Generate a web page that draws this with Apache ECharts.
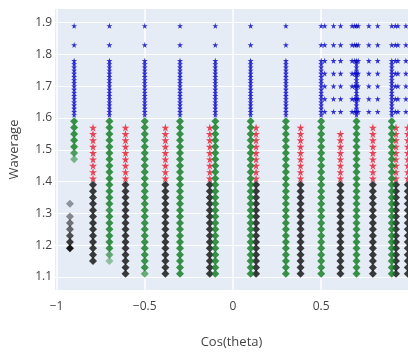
<!DOCTYPE html>
<html>
<head>
<meta charset="utf-8">
<script src="https://cdn.jsdelivr.net/npm/echarts@6/dist/echarts.min.js"></script>
<style>
  html, body { margin: 0; padding: 0; background: #fff; }
  #chart { width: 408px; height: 354px; }
</style>
</head>
<body>
<div id="chart"></div>
<script>
// columns of cos(theta) values and the wave levels
const greenX = [-0.9, -0.7, -0.5, -0.3, -0.1, 0.1, 0.3, 0.5, 0.7, 0.9]
const greenLevels = [1.59, 1.57, 1.55, 1.53, 1.51, 1.49, 1.47, 1.45, 1.43, 1.41, 1.39, 1.37, 1.35,
  1.33, 1.31, 1.29, 1.27, 1.25, 1.23, 1.21, 1.19, 1.17, 1.15, 1.13, 1.11]
const greenLowest = [1.47, 1.15, 1.11, 1.11, 1.11, 1.11, 1.11, 1.11, 1.11, 1.11]
// faded green points: [x, y, opacity]
const greenFaded = [[-0.9, 1.49, 0.7], [-0.9, 1.47, 0.5], [-0.7, 1.31, 0.75], [-0.7, 1.17, 0.6],
  [-0.7, 1.15, 0.4], [-0.5, 1.11, 0.6]]

const blueLevels = [1.89, 1.83, 1.78, 1.77, 1.76, 1.75, 1.74, 1.73, 1.72, 1.71, 1.70, 1.69, 1.68,
  1.67, 1.66, 1.65, 1.64, 1.63, 1.62, 1.61]
const blueGridX = [0.52, 0.57, 0.61, 0.675, 0.69, 0.71, 0.77, 0.82, 0.92, 0.935, 0.98]
const blueGridY = [1.89, 1.83, 1.78, 1.74, 1.70, 1.66, 1.62]

const redX = [-0.793, -0.609, -0.383, -0.131, 0.131, 0.383, 0.609, 0.793, 0.924, 0.991]
const redLevels = [1.57, 1.55, 1.53, 1.51, 1.49, 1.47, 1.45, 1.43, 1.41]
const redHighest = [1.57, 1.57, 1.57, 1.57, 1.57, 1.57, 1.55, 1.57, 1.57, 1.57]

const blackX = [-0.793, -0.609, -0.383, -0.131, 0.131, 0.383, 0.609, 0.793, 0.924, 0.991]
const blackLevels = [1.39, 1.37, 1.35, 1.33, 1.31, 1.29, 1.27, 1.25, 1.23, 1.21, 1.19, 1.17, 1.15,
  1.13, 1.11]
const blackLowest = [1.15, 1.11, 1.11, 1.11, 1.11, 1.11, 1.11, 1.11, 1.11, 1.11]
const greyX = -0.924
const greyY = [1.33, 1.29, 1.27, 1.25, 1.23, 1.21, 1.19]
const greyOpacity = [0.4, 0.45, 0.55, 0.6, 0.7, 0.8, 0.95]

const xTicks = [-1, -0.5, 0, 0.5]
const yTicks = [1.1, 1.2, 1.3, 1.4, 1.5, 1.6, 1.7, 1.8, 1.9]

const STAR = 'path://M50,0 L61,35 L98,35 L68,57 L79,91 L50,70 L21,91 L32,57 L2,35 L39,35 Z'

// build point lists
const fadedKey = new Set(greenFaded.map(p => p[0] + '|' + p[1]))
const greenData = []
greenX.forEach((x, i) => {
  greenLevels.filter(y => y >= greenLowest[i]).forEach(y => {
    if (!fadedKey.has(x + '|' + y)) greenData.push([x, y])
  })
})
greenFaded.forEach(p => greenData.push({ value: [p[0], p[1]], itemStyle: { opacity: p[2] } }))

const blueData = []
greenX.forEach(x => blueLevels.forEach(y => blueData.push([x, y])))
blueGridX.forEach(x => blueGridY.forEach(y => blueData.push([x, y])))

const redData = []
redX.forEach((x, i) => {
  redLevels.filter(y => y <= redHighest[i]).forEach(y => redData.push([x, y]))
})

const blackData = []
blackX.forEach((x, i) => {
  blackLevels.filter(y => y >= blackLowest[i]).forEach(y => blackData.push([x, y]))
})
greyY.forEach((y, i) => blackData.push({ value: [greyX, y], itemStyle: { opacity: greyOpacity[i] } }))

const chart = echarts.init(document.getElementById('chart'), null, { renderer: 'canvas' })

const axisText = { color: '#444', fontSize: 12, fontFamily: 'Open Sans' }

chart.setOption({
  backgroundColor: '#fff',
  animation: false,
  grid: {
    left: 55,
    right: 0,
    top: 9,
    bottom: 51,
    backgroundColor: '#e5ecf6',
    show: true,
    borderWidth: 0,
  },
  xAxis: {
    type: 'value',
    min: -1.0085,
    max: 0.992,
    name: 'Cos(theta)',
    nameLocation: 'middle',
    nameGap: 46,
    nameTextStyle: { color: '#444', fontSize: 13, fontFamily: 'Open Sans' },
    axisLine: { show: false },
    axisTick: { show: false, customValues: xTicks },
    axisLabel: {
      ...axisText,
      margin: 11,
      customValues: xTicks,
      formatter: v => String(v).replace('-', '\u2212'),
    },
    splitLine: { show: true, lineStyle: { color: '#fff', width: 1.5 } },
  },
  yAxis: {
    type: 'value',
    min: 1.059,
    max: 1.943,
    name: 'Waverage',
    nameLocation: 'middle',
    nameGap: 34,
    nameTextStyle: { color: '#444', fontSize: 13, fontFamily: 'Open Sans' },
    axisLine: { show: false },
    axisTick: { show: false, customValues: yTicks },
    axisLabel: { ...axisText, margin: 3, customValues: yTicks, formatter: v => v.toFixed(1) },
    splitLine: { show: true, lineStyle: { color: '#fff', width: 1 } },
  },
  series: [
    {
      name: 'black',
      type: 'scatter',
      data: blackData,
      symbol: 'diamond',
      symbolSize: 8,
      itemStyle: { color: '#0c0c0c' },
    },
    {
      name: 'red',
      type: 'scatter',
      data: redData,
      symbol: STAR,
      symbolSize: 8,
      itemStyle: { color: '#e8192c' },
    },
    {
      name: 'green',
      type: 'scatter',
      data: greenData,
      symbol: 'diamond',
      symbolSize: 8,
      itemStyle: { color: '#0a7a1c' },
    },
    {
      name: 'blue',
      type: 'scatter',
      data: blueData,
      symbol: STAR,
      symbolSize: 6,
      itemStyle: { color: '#0000c8' },
    },
  ],
})
</script>
</body>
</html>
